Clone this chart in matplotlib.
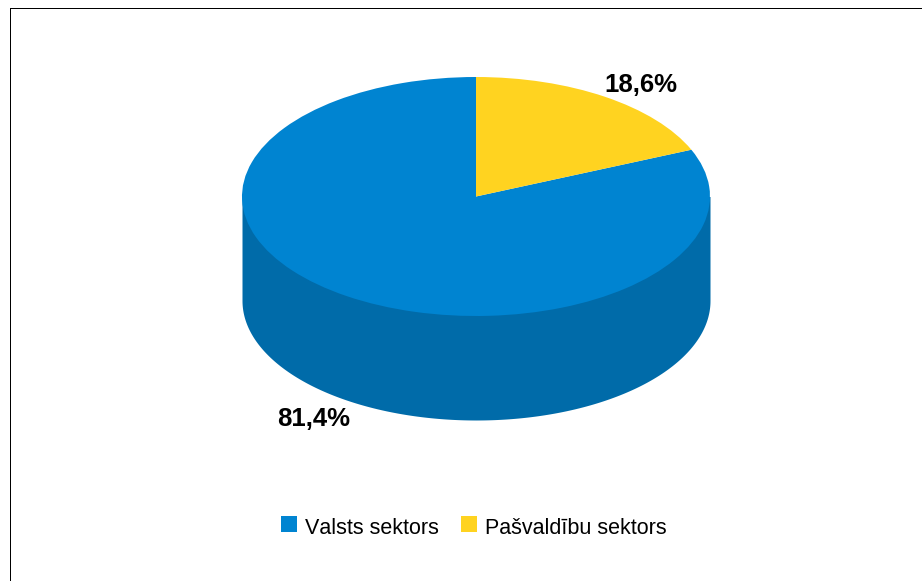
import numpy as np
import matplotlib
matplotlib.use("Agg")
import matplotlib.pyplot as plt
from matplotlib.legend_handler import HandlerPatch
from matplotlib.lines import Line2D
from matplotlib.patches import Patch, Rectangle

categories = ["Valsts sektors", "Pašvaldību sektors"]
values = [81.4, 18.6]
labels = ["81,4%", "18,6%"]
top_colors = ["#0084D1", "#FFD320"]
side_color = "#006BA9"

W, H = 922, 581
plt.rcParams["font.family"] = ["Liberation Sans", "DejaVu Sans"]
plt.rcParams["text.kerning_factor"] = 6
fig = plt.figure(figsize=(W / 100, H / 100), dpi=100, facecolor="white")

# Axes spanning the pie's ellipse: 1 data unit = rx horizontally, ry vertically
cx, cy, rx, ry, depth = 476, 196.5, 234, 119.5, 104
ax = fig.add_axes([0, 0, 1, 1])
wedges, _ = ax.pie(values, colors=top_colors, startangle=90, counterclock=True,
                   radius=1, wedgeprops=dict(linewidth=0))
for w in wedges:
    w.set_zorder(3)
ax.set_aspect("auto")
ax.set_xlim(-cx / rx, (W - cx) / rx)
ax.set_ylim(-(H - cy) / ry, cy / ry)
ax.set_axis_off()

# Side wall of the cylinder
d = depth / ry
t = np.linspace(np.pi, 2 * np.pi, 300)
ax.fill_between(np.cos(t), np.sin(t) - d, np.zeros_like(t), color=side_color,
                linewidth=0, zorder=1)

# Value labels
ax.text((314 - cx) / rx, (cy - 419.5) / ry, labels[0], fontsize=18.5, fontweight="bold",
        ha="center", va="center", color="black")
ax.text((641 - cx) / rx, (cy - 85.5) / ry, labels[1], fontsize=18.5, fontweight="bold",
        ha="center", va="center", color="black")

# Frame: only the top and left edges are visible
fig.add_artist(Line2D([10 / W, 10 / W], [0, 1 - 8 / H], color="black", lw=0.72,
                      transform=fig.transFigure, solid_capstyle="projecting", antialiased=False))
fig.add_artist(Line2D([10 / W, 1], [1 - 8 / H, 1 - 8 / H], color="black", lw=0.72,
                      transform=fig.transFigure, solid_capstyle="projecting", antialiased=False))


def raised_square(legend, orig_handle, xdescent, ydescent, width, height, fontsize):
    # legend keys sit slightly above the text baseline, as in the reference
    return Rectangle((-xdescent, -ydescent + 2.0 * 72 / 100), width, height)


handles = [Patch(facecolor=c, edgecolor="none") for c in top_colors]
fig.legend(handles, categories, loc="center left", bbox_to_anchor=(281 / W, 1 - 528 / H),
           ncol=2, frameon=False, fontsize=15.5, handlelength=0.74, handleheight=0.74,
           handletextpad=0.37, columnspacing=1.03, borderpad=0, borderaxespad=0,
           handler_map={Patch: HandlerPatch(patch_func=raised_square)})

fig.savefig("out.png", dpi=100)
